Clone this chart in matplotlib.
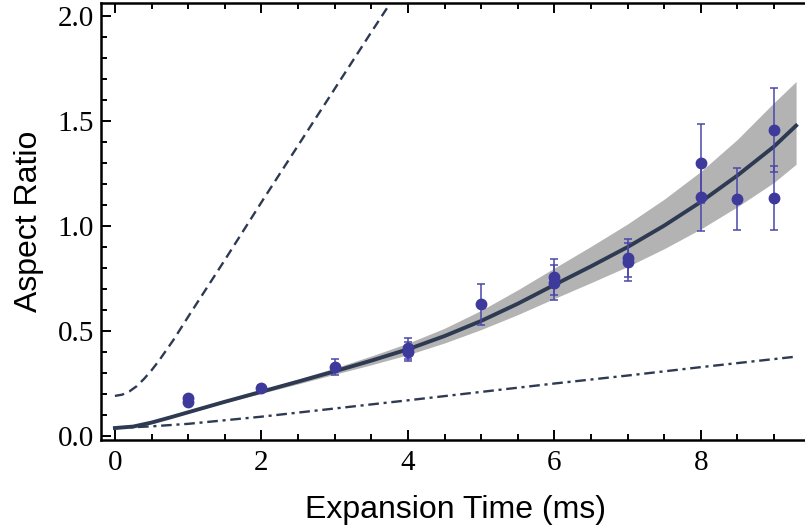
import numpy as np
import matplotlib
matplotlib.use("Agg")
from matplotlib import pyplot as plt
from matplotlib.ticker import MultipleLocator, FormatStrFormatter


# Datos medidos (tiempo de expansión en ms, razón de aspecto, error)
t_data = [1, 1, 2, 3, 4, 4, 5, 6, 6, 7, 7, 8, 8, 8.5, 9, 9]
r_data = [0.182, 0.165, 0.232, 0.33, 0.42, 0.404, 0.63, 0.758, 0.733,
          0.848, 0.832, 1.30, 1.14, 1.13, 1.46, 1.135]
r_err = [0.012, 0.012, 0.012, 0.038, 0.05, 0.045, 0.097, 0.085, 0.085,
         0.09, 0.09, 0.19, 0.16, 0.147, 0.2, 0.153]

# Curva de ajuste y banda de confianza
t_fit = [0, 0.25, 0.5, 0.75, 1, 1.5, 2, 2.5, 3, 3.5, 4, 4.5, 5, 5.5, 6,
         6.5, 7, 7.5, 8, 8.5, 9, 9.3]
r_fit = [0.04, 0.047, 0.066, 0.09, 0.115, 0.165, 0.213, 0.261, 0.31, 0.361, 0.415,
         0.478, 0.55, 0.632, 0.722, 0.81, 0.902, 1.004, 1.117, 1.243, 1.381, 1.48]
band_lo = [0.04, 0.047, 0.065, 0.088, 0.112, 0.16, 0.205, 0.25, 0.296, 0.341, 0.389,
           0.445, 0.509, 0.58, 0.657, 0.732, 0.809, 0.894, 0.988, 1.094, 1.21, 1.296]
band_hi = [0.04, 0.047, 0.067, 0.091, 0.118, 0.171, 0.222, 0.273, 0.326, 0.383, 0.444,
           0.515, 0.6, 0.698, 0.802, 0.905, 1.012, 1.13, 1.262, 1.415, 1.59, 1.69]

# Modelo a trazos
t_dash = [0, 0.1, 0.2, 0.3, 0.4, 0.5, 0.6, 0.8, 1.0, 1.5, 2.0, 2.5, 3.0, 3.5, 3.8]
r_dash = [0.193, 0.199, 0.215, 0.24, 0.275, 0.315, 0.36, 0.46, 0.57, 0.84, 1.115,
          1.385, 1.655, 1.925, 2.085]

# Modelo punto-raya
t_dd = [0, 0.5, 1, 2, 3, 4, 5, 6, 7, 8, 9.3]
r_dd = [0.04, 0.048, 0.06, 0.094, 0.133, 0.172, 0.212, 0.252, 0.29, 0.33, 0.38]

line_col = '#2d3a52'
pt_col = '#3d3a9b'

fig = plt.figure(figsize=(8.05, 5.30), dpi=100)
ax = fig.add_axes([101 / 805, 1 - 440 / 530, (810 - 101) / 805, (440 - 3) / 530])

ax.fill_between(t_fit, band_lo, band_hi, color='#b3b3b3', lw=0, zorder=1)
ax.plot(t_fit, r_fit, color=line_col, lw=2.8, zorder=3)
ax.plot(t_dash, r_dash, color=line_col, lw=1.7, dashes=(4, 2.4), zorder=2)
ax.plot(t_dd, r_dd, color=line_col, lw=1.7, dashes=(4.5, 2, 1.3, 2), zorder=2)
ax.errorbar(t_data, r_data, yerr=r_err, fmt='o', color=pt_col, ms=7.5,
            ecolor='#4a47aa', elinewidth=1.1, capsize=3, capthick=1.1, zorder=4)

ax.set_xlim(-0.19, 9.49)
ax.set_ylim(-0.017, 2.064)
ax.xaxis.set_major_locator(MultipleLocator(2))
ax.xaxis.set_minor_locator(MultipleLocator(0.5))
ax.yaxis.set_major_locator(MultipleLocator(0.5))
ax.yaxis.set_minor_locator(MultipleLocator(0.1))
ax.yaxis.set_major_formatter(FormatStrFormatter('%.1f'))
ax.tick_params(which='both', direction='in', top=True, right=False, width=1.4)
ax.tick_params(which='major', length=7, labelsize=21)
ax.tick_params(axis='x', which='major', pad=7)
ax.tick_params(axis='y', which='major', pad=5)
ax.tick_params(which='minor', length=4)
for lab in ax.get_xticklabels() + ax.get_yticklabels():
    lab.set_family('Liberation Serif')
for s in ax.spines.values():
    s.set_linewidth(1.8)

ax.set_xlabel('Expansion Time (ms)', family='Liberation Sans', fontsize=23, labelpad=14)
ax.set_ylabel('Aspect Ratio', family='Liberation Sans', fontsize=23, labelpad=10)

fig.savefig('out.png', dpi=100)
